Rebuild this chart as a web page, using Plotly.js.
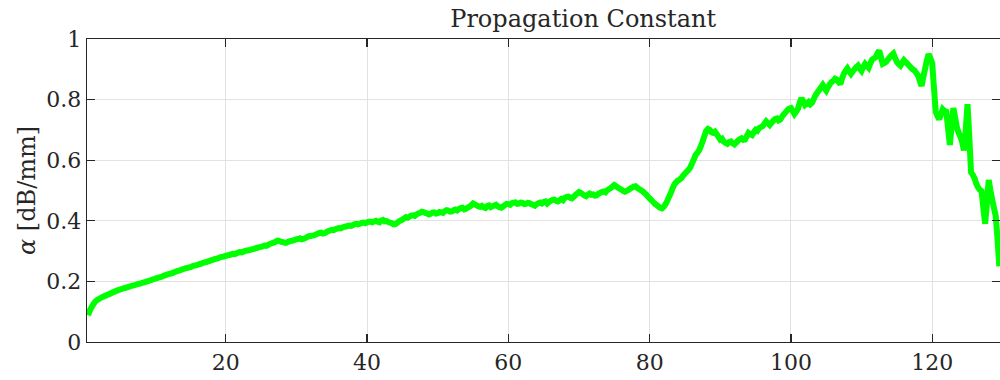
<!DOCTYPE html>
<html>
<head>
<meta charset="utf-8">
<script src="https://cdn.plot.ly/plotly-3.0.1.min.js"></script>
<style>
  html, body { margin: 0; padding: 0; background: #ffffff; }
  #chart { width: 1000px; height: 380px; }
</style>
</head>
<body>
<div id="chart"></div>
<script>
// Sampling grid of the measurement (start and spacing of the frequency axis)
const X_START = 0.5;
const X_STEP = 0.25;

// Attenuation constant alpha [dB/mm], one value per grid point (20 per row = 5 units)
const alphaDbPerMm = [
  0.088, 0.104, 0.115, 0.125, 0.133, 0.138, 0.142, 0.145, 0.148, 0.151, 0.153, 0.156, 0.158, 0.161, 0.164, 0.166, 0.169, 0.171, 0.173, 0.175,
  0.177, 0.178, 0.180, 0.182, 0.184, 0.186, 0.187, 0.189, 0.191, 0.192, 0.194, 0.196, 0.197, 0.199, 0.201, 0.203, 0.205, 0.207, 0.209, 0.211,
  0.213, 0.214, 0.216, 0.219, 0.221, 0.223, 0.225, 0.226, 0.228, 0.231, 0.233, 0.235, 0.236, 0.239, 0.241, 0.243, 0.244, 0.246, 0.247, 0.250,
  0.252, 0.253, 0.255, 0.257, 0.258, 0.261, 0.263, 0.264, 0.266, 0.268, 0.270, 0.272, 0.274, 0.275, 0.277, 0.280, 0.281, 0.282, 0.284, 0.286,
  0.287, 0.289, 0.291, 0.290, 0.292, 0.295, 0.297, 0.296, 0.298, 0.301, 0.302, 0.303, 0.304, 0.306, 0.307, 0.310, 0.311, 0.313, 0.314, 0.316,
  0.318, 0.317, 0.320, 0.324, 0.326, 0.328, 0.330, 0.334, 0.334, 0.331, 0.330, 0.328, 0.327, 0.330, 0.332, 0.334, 0.335, 0.337, 0.339, 0.340,
  0.342, 0.339, 0.340, 0.343, 0.346, 0.349, 0.350, 0.351, 0.352, 0.355, 0.357, 0.360, 0.361, 0.358, 0.359, 0.363, 0.366, 0.368, 0.370, 0.369,
  0.372, 0.374, 0.376, 0.375, 0.378, 0.380, 0.381, 0.383, 0.384, 0.383, 0.386, 0.389, 0.390, 0.388, 0.390, 0.393, 0.394, 0.392, 0.395, 0.397,
  0.397, 0.395, 0.398, 0.400, 0.397, 0.395, 0.401, 0.403, 0.398, 0.399, 0.396, 0.394, 0.392, 0.388, 0.389, 0.393, 0.398, 0.401, 0.404, 0.408,
  0.412, 0.410, 0.414, 0.417, 0.418, 0.416, 0.421, 0.424, 0.426, 0.430, 0.429, 0.426, 0.424, 0.421, 0.423, 0.427, 0.428, 0.424, 0.425, 0.429,
  0.428, 0.426, 0.432, 0.435, 0.434, 0.430, 0.431, 0.435, 0.437, 0.434, 0.439, 0.442, 0.443, 0.438, 0.440, 0.444, 0.447, 0.451, 0.457, 0.454,
  0.451, 0.448, 0.446, 0.449, 0.444, 0.442, 0.449, 0.451, 0.445, 0.448, 0.450, 0.453, 0.448, 0.445, 0.443, 0.447, 0.452, 0.456, 0.455, 0.453,
  0.458, 0.460, 0.461, 0.456, 0.457, 0.460, 0.459, 0.455, 0.456, 0.459, 0.458, 0.455, 0.453, 0.450, 0.455, 0.458, 0.460, 0.457, 0.462, 0.464,
  0.457, 0.462, 0.466, 0.469, 0.470, 0.466, 0.464, 0.468, 0.472, 0.468, 0.476, 0.479, 0.480, 0.476, 0.474, 0.479, 0.485, 0.490, 0.495, 0.492,
  0.488, 0.484, 0.481, 0.486, 0.490, 0.486, 0.487, 0.483, 0.484, 0.489, 0.492, 0.495, 0.497, 0.494, 0.501, 0.505, 0.508, 0.513, 0.518, 0.514,
  0.510, 0.506, 0.503, 0.499, 0.496, 0.499, 0.502, 0.506, 0.509, 0.513, 0.514, 0.509, 0.505, 0.501, 0.498, 0.492, 0.487, 0.480, 0.474, 0.468,
  0.462, 0.456, 0.452, 0.447, 0.443, 0.441, 0.446, 0.455, 0.466, 0.479, 0.492, 0.507, 0.520, 0.527, 0.533, 0.536, 0.541, 0.549, 0.556, 0.562,
  0.568, 0.576, 0.589, 0.602, 0.617, 0.624, 0.632, 0.646, 0.662, 0.680, 0.696, 0.703, 0.700, 0.692, 0.690, 0.694, 0.686, 0.677, 0.668, 0.671,
  0.661, 0.657, 0.654, 0.660, 0.662, 0.656, 0.652, 0.658, 0.664, 0.669, 0.672, 0.667, 0.668, 0.679, 0.690, 0.686, 0.683, 0.692, 0.700, 0.697,
  0.706, 0.709, 0.712, 0.720, 0.728, 0.722, 0.716, 0.723, 0.730, 0.736, 0.738, 0.731, 0.734, 0.744, 0.752, 0.758, 0.765, 0.770, 0.772, 0.762,
  0.752, 0.760, 0.770, 0.790, 0.805, 0.794, 0.782, 0.787, 0.792, 0.785, 0.790, 0.803, 0.815, 0.824, 0.832, 0.840, 0.848, 0.838, 0.830, 0.841,
  0.851, 0.858, 0.862, 0.869, 0.866, 0.858, 0.851, 0.870, 0.886, 0.895, 0.903, 0.893, 0.885, 0.893, 0.900, 0.907, 0.912, 0.902, 0.895, 0.908,
  0.918, 0.911, 0.905, 0.920, 0.932, 0.936, 0.940, 0.952, 0.962, 0.940, 0.918, 0.921, 0.925, 0.933, 0.940, 0.947, 0.952, 0.938, 0.924, 0.917,
  0.912, 0.922, 0.930, 0.924, 0.918, 0.912, 0.905, 0.900, 0.896, 0.888, 0.880, 0.862, 0.845, 0.875, 0.902, 0.930, 0.950, 0.936, 0.920, 0.840,
  0.760, 0.745, 0.735, 0.752, 0.768, 0.762, 0.760, 0.705, 0.650, 0.712, 0.772, 0.741, 0.708, 0.690, 0.678, 0.660, 0.632, 0.700, 0.785, 0.680,
  0.560, 0.552, 0.540, 0.522, 0.510, 0.502, 0.498, 0.440, 0.390, 0.460, 0.535, 0.500, 0.470, 0.442, 0.415, 0.340, 0.250
];

// Frequency grid built from the sampling start and spacing
const freq = alphaDbPerMm.map((_, i) => X_START + i * X_STEP);

const xTickValues = [20, 40, 60, 80, 100, 120];
const yTickValues = [0, 0.2, 0.4, 0.6, 0.8, 1];

const serif = 'DejaVu Serif';
const ink = '#262626';

const trace = {
  x: freq,
  y: alphaDbPerMm,
  type: 'scatter',
  mode: 'lines',
  line: { color: '#00ff00', width: 6, simplify: false },
  hoverinfo: 'x+y'
};

const layout = {
  width: 1000,
  height: 380,
  margin: { l: 87, r: 0, t: 39, b: 38 },
  paper_bgcolor: '#ffffff',
  plot_bgcolor: '#ffffff',
  showlegend: false,
  font: { family: serif, color: ink },
  title: {
    text: 'Propagation Constant',
    font: { family: serif, size: 24, color: ink },
    x: 0.5435, xanchor: 'center',
    xref: 'paper',
    y: 0.952, yanchor: 'middle', yref: 'container'
  },
  xaxis: {
    range: [0.35, 129.6],
    tickvals: xTickValues,
    ticks: 'inside', ticklen: 8, tickwidth: 1.2, tickcolor: ink,
    showline: true, linecolor: ink, linewidth: 1.3, mirror: 'ticks',
    showgrid: true, gridcolor: '#e2e2e2', gridwidth: 1,
    zeroline: false,
    tickfont: { family: serif, size: 22, color: ink }
  },
  yaxis: {
    range: [0, 1],
    tickvals: yTickValues,
    ticks: 'inside', ticklen: 8, tickwidth: 1.2, tickcolor: ink,
    showline: true, linecolor: ink, linewidth: 1.3, mirror: 'ticks',
    showgrid: true, gridcolor: '#e2e2e2', gridwidth: 1,
    zeroline: false,
    tickfont: { family: serif, size: 22, color: ink },
    title: {
      text: '<i>α</i> [dB/mm]',
      font: { family: serif, size: 24, color: ink },
      standoff: 4
    }
  }
};

Plotly.newPlot('chart', [trace], layout, { staticPlot: true, displayModeBar: false });
</script>
</body>
</html>
